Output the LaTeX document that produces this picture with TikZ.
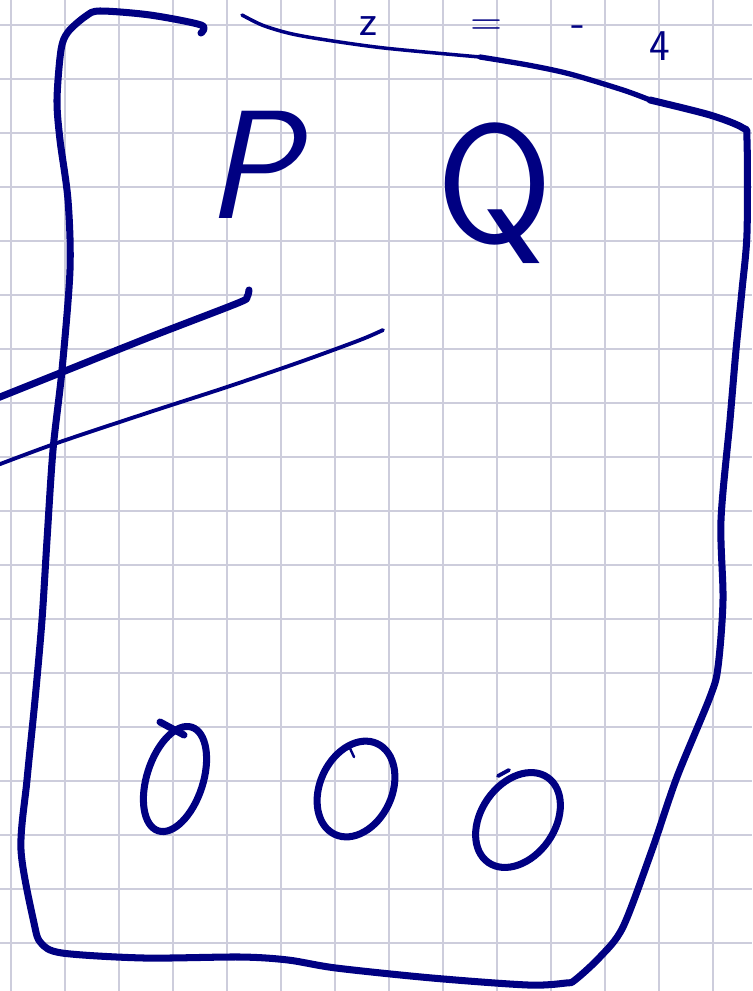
\documentclass[tikz,border=0pt]{standalone}
\usepackage{tikz}
\usetikzlibrary{shapes.geometric, positioning}

\definecolor{ink}{RGB}{0,0,130}
\definecolor{paperline}{RGB}{205,205,220}

\begin{document}
\begin{tikzpicture}[
    x=0.02cm, y=-0.02cm,
    font=\sffamily,
    ink/.style={draw=ink, line width=4pt, line cap=round, line join=round},
    thinink/.style={ink, line width=2.2pt},
    hairink/.style={ink, line width=1.4pt},
    letter/.style={text=ink, inner sep=0pt, anchor=base, font=\sffamily\fontsize{88}{88}\selectfont},
    headletter/.style={letter, font=\sffamily\fontsize{25}{25}\selectfont},
    ring/.style={ellipse, draw=ink, line width=4pt, inner sep=0pt},
    gridline/.style={draw=paperline, line width=0.7pt}
]
    \useasboundingbox (0,0) rectangle (752,991);
    \clip (0,0) rectangle (752,991);
    \fill[white] (0,0) rectangle (752,991);

    % squared paper
    \foreach \gx in {11,65,...,713} \draw[gridline] (\gx,0) -- (\gx,991);
    \foreach \gy in {25,79,...,943} \draw[gridline] (0,\gy) -- (752,\gy);

    % heading along the top edge
    \node (zsym) [headletter] at (368,35) {z};
    \node (eqsym) [headletter] at (487,35) {=};
    \node (minsym) [headletter] at (578,36) {-};
    \node (four) [headletter] at (660,60) {4};

    % the box
    \draw[ink] plot[smooth] coordinates {(201,33) (201,25) (150,15) (100,11) (86,16) (68,32) (61,50)
        (57,100) (60,140) (68,200) (70,270) (62,370) (53,450) (47,540) (42,620) (35,700) (27,780)
        (21,850) (34,923) (41,943) (62,953) (144,958) (240,957) (288,960) (336,968) (432,978)
        (528,985) (566,983) (575,980) (600,957) (623,927) (652,850) (677,777) (710,697) (718,667)
        (723,600) (721,520) (730,420) (736,350) (742,290) (747,233) (747,140) (743,128) (710,115)
        (650,100)};
    \draw[ink, line width=3pt] plot[smooth] coordinates {(650,100) (623,90) (570,74) (528,65) (480,57)};
    \draw[thinink, line width=2pt] plot[smooth] coordinates {(480,57) (384,48) (320,39) (288,33) (262,25) (242,15)};

    % the two strokes through the left side
    \draw[ink] plot[smooth] coordinates {(-5,399) (60,373) (150,337) (238,303) (247,297) (249,290)};
    \draw[thinink] plot[smooth] coordinates {(-5,466) (57,443) (150,412) (227,387) (300,362) (360,340) (383,330)};

    % letters
    \node (P) [letter, font=\sffamily\slshape\fontsize{88}{88}\selectfont] at (252,218) {P};
    \node (Q) [letter, font=\sffamily\fontsize{96}{96}\selectfont] at (495,242) {Q};

    % three rings
    \node (ring1) [ring, minimum width=32pt, minimum height=62pt, rotate=-18] at (175,779) {};
    \node (ring2) [ring, minimum width=41pt, minimum height=57pt, rotate=-25] at (356,789) {};
    \node (ring3) [ring, minimum width=42pt, minimum height=59pt, rotate=-35] at (518,820) {};
    \draw[ink] (160,722) -- (184,735);
    \draw[hairink] (348,744) -- (354,757);
    \draw[thinink] (498,776) -- (509,770);
\end{tikzpicture}
\end{document}
